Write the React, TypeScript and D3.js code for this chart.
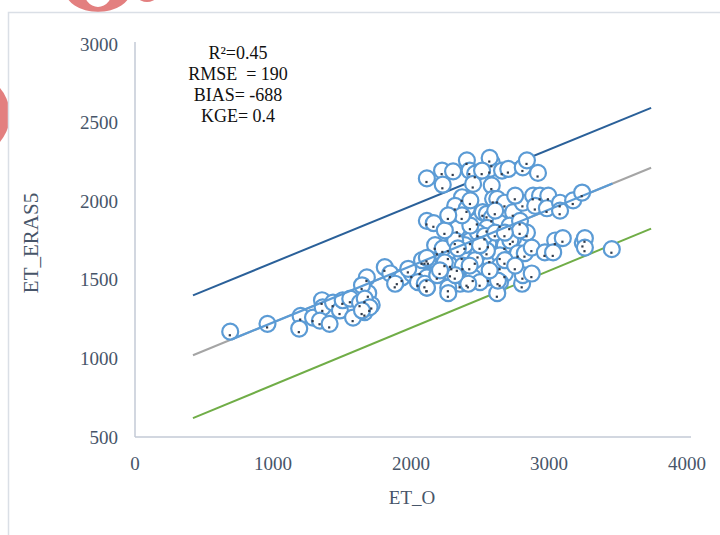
import React, { useEffect, useRef } from 'react'
import * as d3 from 'd3'

const etO = [
  690, 960, 1200, 1190, 1290, 1355, 1360, 1340, 1410, 1435, 1485, 1505, 1560, 1580, 1630, 1665, 1690, 1715,
  1680, 1645, 1810, 1850, 1900, 1935, 2005, 2065, 2115, 2115, 2050, 2125, 2190, 1665, 1700, 1645, 1885, 1980,
  2100, 2080,
  2115, 2225, 2305, 2230, 2405, 2425, 2465, 2450, 2585, 2570, 2660, 2705, 2810, 2920, 2585, 2570, 2515, 2840,
  2370, 2320, 2405, 2115, 2165, 2355, 2335, 2480, 2520, 2550, 2585, 2595, 2625, 2680, 2740, 2810, 2885, 2935,
  2995, 2900, 2985, 3080, 3080, 3175, 3240, 2645, 2550, 2840, 3045, 3100, 3245, 3260, 2560, 2680, 2740, 2720,
  2775, 2825, 2875, 2970, 3030, 3260, 3455, 2570, 2645, 2645, 2680, 2560, 2645, 2625, 2805, 2810, 2875,
  2175, 2270, 2285, 2285, 2335, 2355, 2405, 2450, 2485, 2550, 2500, 2100, 2115, 2190, 2270, 2270, 2270, 2115,
  2295, 2370, 2375, 2415, 2230, 2630,
  2430, 2485, 2390, 2535, 2320, 2430, 2370, 2245, 2465, 2610, 2715, 2790,
  2245, 2320, 2425, 2500, 2570, 2680, 2755, 2210, 2340, 2610, 2755, 2430, 2270, 2790, 2680,
]
const etEra5 = [
  1170, 1220, 1270, 1190, 1260, 1370, 1325, 1240, 1220, 1355, 1305, 1370, 1380, 1260, 1355, 1295, 1415, 1340,
  1515, 1465, 1580, 1540, 1495, 1515, 1540, 1560, 1515, 1450, 1485, 1625, 1685, 1380, 1325, 1305, 1475, 1570,
  1625, 1625,
  2145, 2195, 2190, 2105, 2260, 2195, 2175, 2110, 2245, 2205, 2195, 2205, 2215, 2180, 2100, 2275, 2195, 2260,
  2025, 1970, 1955, 1875, 1860, 1800, 1825, 1875, 1930, 1920, 1895, 2015, 2015, 1990, 1930, 1990, 2035, 2035,
  2035, 1970, 1955, 1990, 1940, 2005, 2055, 1860, 1830, 1800, 1750, 1765, 1735, 1765, 1730, 1720, 1765, 1750,
  1670, 1670, 1705, 1675, 1675, 1705, 1695, 1635, 1655, 1590, 1540, 1515, 1485, 1415, 1475, 1530, 1540,
  1720, 1705, 1605, 1545, 1580, 1475, 1485, 1515, 1665, 1685, 1485, 1475, 1450, 1530, 1450, 1415, 1655, 1640,
  1590, 1655, 1590, 1475, 1700, 1495,
  1750, 1800, 1720, 1780, 1750, 1845, 1910, 1815, 1625, 1800, 1845, 1875,
  1610, 1530, 1590, 1720, 1560, 1625, 1590, 1560, 1700, 1940, 2035, 2005, 1910, 1815, 1800,
]

// reference lines: fit band (start / end values)
const lineX = [420, 3740]
const upperY = [1401, 2594]
const fitY = [1020, 2213]
const lowerY = [620, 1826]
const trendX = [700, 3460]
const trendY = [1121, 2112]

const xTicks = [0, 1000, 2000, 3000, 4000]
const yTicks = [500, 1000, 1500, 2000, 2500, 3000]
const stats = ['R²=0.45', 'RMSE  = 190', 'BIAS= -688', 'KGE= 0.4']

const App: React.FC = () => {
  const svgRef = useRef<SVGSVGElement | null>(null)

  useEffect(() => {
    if (!svgRef.current) return
    const svg = d3.select(svgRef.current)
    svg.selectAll('*').remove()
    const width = 720
    const height = 535
    const font = '"Liberation Serif", "Times New Roman", serif'
    const axisColor = '#c3cad6'
    const labelColor = '#475569'
    const pink = '#e37f7f'

    svg.attr('width', width).attr('height', height)

    // watermark fragments
    svg.append('path')
      .attr('d', 'M65,-10 a33,22 0 1,0 66,0 a33,22 0 1,0 -66,0 Z M83,-12 a15,19 0 1,0 30,0 a15,19 0 1,0 -30,0 Z')
      .attr('fill', pink)
      .attr('fill-rule', 'evenodd')
    svg.append('ellipse')
      .attr('cx', -38).attr('cy', 115).attr('rx', 48).attr('ry', 44)
      .attr('fill', pink)
    svg.append('ellipse')
      .attr('cx', 147).attr('cy', -2).attr('rx', 8).attr('ry', 4)
      .attr('fill', pink)

    // chart area
    svg.append('rect')
      .attr('x', 8.5).attr('y', 12.5).attr('width', 730).attr('height', 540)
      .attr('fill', '#fff').attr('stroke', '#dadfe6').attr('stroke-width', 1.5)

    const x = d3.scaleLinear().domain([0, 4000]).range([135, 687])
    const y = d3.scaleLinear().domain([500, 3000]).range([437, 44])

    // axes
    svg.append('line')
      .attr('x1', x(0)).attr('x2', x(0)).attr('y1', y(500)).attr('y2', y(3000) - 2)
      .attr('stroke', axisColor).attr('stroke-width', 1.5)
    svg.append('line')
      .attr('x1', x(0)).attr('x2', x(4000) + 4).attr('y1', y(500)).attr('y2', y(500))
      .attr('stroke', axisColor).attr('stroke-width', 1.5)

    svg.append('g')
      .selectAll('text')
      .data(yTicks)
      .join('text')
      .attr('x', 118)
      .attr('y', d => y(d))
      .attr('dy', '0.35em')
      .attr('text-anchor', 'end')
      .attr('font-family', font)
      .attr('font-size', 19)
      .attr('fill', labelColor)
      .text(d => d)

    svg.append('g')
      .selectAll('text')
      .data(xTicks)
      .join('text')
      .attr('x', d => x(d))
      .attr('y', 470)
      .attr('text-anchor', 'middle')
      .attr('font-family', font)
      .attr('font-size', 19)
      .attr('fill', labelColor)
      .text(d => d)

    svg.append('text')
      .attr('x', 412).attr('y', 504)
      .attr('text-anchor', 'middle')
      .attr('font-family', font).attr('font-size', 19)
      .attr('fill', labelColor)
      .text('ET_O')

    svg.append('text')
      .attr('transform', 'translate(38,243) rotate(-90)')
      .attr('text-anchor', 'middle')
      .attr('font-family', font).attr('font-size', 21)
      .attr('fill', labelColor)
      .text('ET_ERAS5')

    // reference lines
    const refLines = [
      { ys: upperY, color: '#2a6099' },
      { ys: fitY, color: '#a5a5a5' },
      { ys: lowerY, color: '#70ad47' },
    ]
    svg.append('g')
      .selectAll('line')
      .data(refLines)
      .join('line')
      .attr('x1', x(lineX[0])).attr('x2', x(lineX[1]))
      .attr('y1', d => y(d.ys[0])).attr('y2', d => y(d.ys[1]))
      .attr('stroke', d => d.color)
      .attr('stroke-width', 2)

    const pts = etO.map((v, i) => ({ o: v, e: etEra5[i] }))

    svg.append('g')
      .selectAll('circle')
      .data(pts)
      .join('circle')
      .attr('cx', d => x(d.o))
      .attr('cy', d => y(d.e))
      .attr('r', 8)
      .attr('fill', '#fff')
      .attr('stroke', '#5b9bd5')
      .attr('stroke-width', 2.2)

    // trend line
    svg.append('line')
      .attr('x1', x(trendX[0])).attr('x2', x(trendX[1]))
      .attr('y1', y(trendY[0])).attr('y2', y(trendY[1]))
      .attr('stroke', '#5b9bd5')
      .attr('stroke-width', 2.2)

    svg.append('g')
      .selectAll('rect')
      .data(pts)
      .join('rect')
      .attr('x', d => x(d.o) - 1.5)
      .attr('y', d => y(d.e) + 2.5)
      .attr('width', 2.2)
      .attr('height', 2.2)
      .attr('fill', '#2f3b4c')

    svg.append('g')
      .selectAll('text')
      .data(stats)
      .join('text')
      .attr('x', 238)
      .attr('y', (d, i) => 59 + i * 21)
      .attr('text-anchor', 'middle')
      .attr('font-family', font)
      .attr('font-size', 18)
      .attr('fill', '#111')
      .style('white-space', 'pre')
      .text(d => d)
  }, [])

  return (
    <div style={{ position: 'absolute', left: 0, top: 0 }}>
      <svg ref={svgRef} style={{ display: 'block' }}></svg>
    </div>
  )
}

export default App
